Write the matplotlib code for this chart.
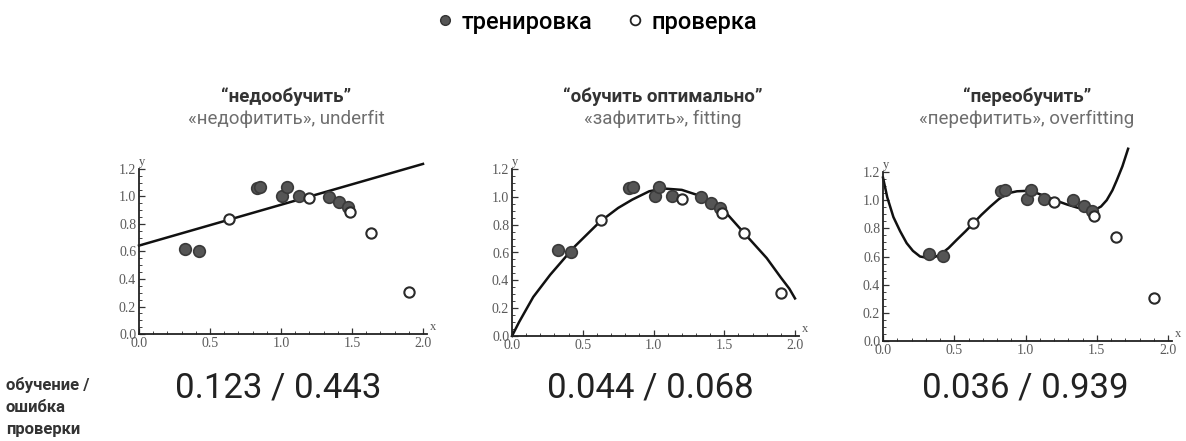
import matplotlib
matplotlib.use('Agg')
import matplotlib.pyplot as plt
from matplotlib.lines import Line2D
from matplotlib.ticker import FixedLocator
import numpy as np

plt.rcParams['font.family'] = ['Roboto', 'DejaVu Sans']

# training / validation points (same sample in every panel)
train_x = [0.325, 0.42, 0.83, 0.855, 1.008, 1.04, 1.128, 1.335, 1.408, 1.47]
train_y = [0.617, 0.605, 1.064, 1.069, 1.005, 1.071, 1.005, 0.998, 0.957, 0.921]
valid_x = [0.632, 1.2, 1.483, 1.637, 1.9]
valid_y = [0.836, 0.988, 0.886, 0.737, 0.307]

# model curves
under_x = [0.0, 2.0]
under_y = [0.643, 1.237]

fit_x = [0.0, 0.05, 0.15, 0.27, 0.44, 0.62, 0.75, 0.85, 0.97, 1.07, 1.2, 1.35, 1.5,
         1.64, 1.8, 1.9, 1.96, 2.0]
fit_y = [0.0, 0.10, 0.28, 0.44, 0.64, 0.82, 0.92, 0.98, 1.04, 1.06, 1.05, 1.0, 0.90,
         0.74, 0.56, 0.42, 0.34, 0.27]

over_x = [0.0, 0.03, 0.073, 0.12, 0.166, 0.21, 0.26, 0.318, 0.36, 0.4, 0.46, 0.517,
          0.58, 0.634, 0.69, 0.751, 0.81, 0.868, 0.94, 1.008, 1.08, 1.149, 1.22,
          1.289, 1.36, 1.43, 1.489, 1.53, 1.57, 1.61, 1.64, 1.68, 1.72]
over_y = [1.16, 1.02, 0.88, 0.78, 0.695, 0.64, 0.60, 0.589, 0.595, 0.612, 0.66, 0.718,
          0.78, 0.836, 0.895, 0.953, 1.005, 1.047, 1.063, 1.066, 1.05, 1.024, 0.995,
          0.97, 0.948, 0.93, 0.932, 0.955, 1.0, 1.07, 1.14, 1.24, 1.365]

titles = ['\u201cнедообучить\u201d', '\u201cобучить оптимально\u201d', '\u201cпереобучить\u201d']
subtitles = ['«недофитить», underfit', '«зафитить», fitting', '«перефитить», overfitting']
train_err = [0.123, 0.044, 0.036]
valid_err = [0.443, 0.068, 0.939]

curves = [(under_x, under_y), (fit_x, fit_y), (over_x, over_y)]
# pixel of x=0, x=2, y=0, y=1.2 for each panel
frames = [(139, 423, 334, 169), (512, 795, 336, 169), (883, 1168, 341, 172)]
title_cx = [286, 663, 1027]
score_cx = [278, 650, 1025]

W, H = 1186, 441
fig = plt.figure(figsize=(W / 100, H / 100), dpi=100)
XMAX, YMAX = 2.08, 1.38

for i in range(3):
    x0, x2, y0, y12 = frames[i]
    w = (x2 - x0) / 2.0 * XMAX
    h = (y0 - y12) / 1.2 * YMAX
    ax = fig.add_axes([x0 / W, (H - y0) / H, w / W, h / H])
    ax.set_xlim(0, XMAX)
    ax.set_ylim(0, YMAX)
    for s in ['top', 'right']:
        ax.spines[s].set_visible(False)
    ax.spines['left'].set_bounds(0, 1.2)
    ax.spines['bottom'].set_bounds(0, 2.03)
    for s in ['left', 'bottom']:
        ax.spines[s].set_linewidth(1.3)
        ax.spines[s].set_color('#222222')
    ax.set_yticks(np.arange(0, 1.21, 0.2))
    ax.set_xticks(np.arange(0, 2.01, 0.5))
    ax.xaxis.set_minor_locator(FixedLocator(np.arange(0, 2.01, 0.1)))
    ax.yaxis.set_minor_locator(FixedLocator(np.arange(0, 1.201, 0.05)))
    ax.xaxis.set_major_formatter(lambda v, p: '%.1f' % v)
    ax.yaxis.set_major_formatter(lambda v, p: '%.1f' % v)
    ax.tick_params(which='major', direction='in', length=4, width=0.9, color='#333333',
                   labelsize=10, labelcolor='#5a5a5a', pad=2)
    ax.tick_params(which='minor', direction='in', length=2, width=0.7, color='#444444')
    for lab in ax.get_xticklabels() + ax.get_yticklabels():
        lab.set_family('Liberation Serif')
    ax.text(2.05, 0.01, 'x', family='Liberation Serif', fontsize=9, color='#555555',
            ha='left', va='bottom')
    ax.text(0.0, 1.21, 'y', family='Liberation Serif', fontsize=9, color='#555555',
            ha='left', va='bottom')
    ax.patch.set_alpha(0)

    cx, cy = curves[i]
    ax.plot(cx, cy, color='#111111', lw=1.8, zorder=2, clip_on=False)
    ax.scatter(train_x, train_y, s=70, color='#555555', edgecolors='#3a3a3a',
               linewidths=1.2, zorder=3, clip_on=False)
    ax.scatter(valid_x, valid_y, s=55, color='white', edgecolors='#2a2a2a',
               linewidths=1.5, zorder=4, clip_on=False)

    fig.text(title_cx[i] / W, 1 - 97 / H, titles[i], ha='center', va='center',
             fontsize=13.5, fontweight='bold', color='#333333')
    fig.text(title_cx[i] / W, 1 - 119 / H, subtitles[i], ha='center', va='center',
             fontsize=13.5, color='#6e6e6e')
    fig.text(score_cx[i] / W, 1 - 388 / H, '%.3f / %.3f' % (train_err[i], valid_err[i]),
             ha='center', va='center', fontsize=25, color='#222222')

fig.text(6 / W, 1 - 407 / H, 'обучение /\nошибка\nпроверки', ha='left', va='center',
         fontsize=12, fontweight='bold', color='#333333', linespacing=1.6)

handles = [Line2D([], [], ls='none', marker='o', markersize=7, color='#555555',
                  markeredgecolor='#333333'),
           Line2D([], [], ls='none', marker='o', markersize=7, markerfacecolor='white',
                  markeredgecolor='#222222', markeredgewidth=1.3)]
leg = fig.legend(handles, ['тренировка', 'проверка'], loc='center', ncol=2,
                 bbox_to_anchor=(0.502, 1 - 22 / H), frameon=False, fontsize=17,
                 handletextpad=0.2, columnspacing=1.3, handlelength=1.0)
for t in leg.get_texts():
    t.set_fontweight('medium')

fig.savefig('out.png', dpi=100)
